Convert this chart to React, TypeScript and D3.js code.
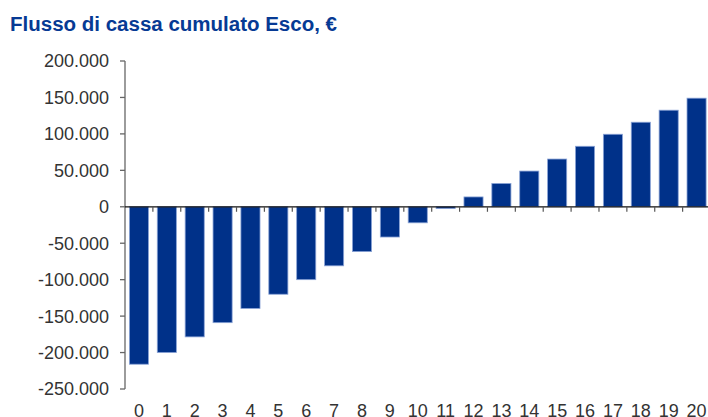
import React from "react";
import * as d3 from "d3";

const years = ["0","1","2","3","4","5","6","7","8","9","10","11","12","13","14","15","16","17","18","19","20"];
const cumulativeCash = [-216000,-200000,-178500,-159000,-139500,-120000,-100000,-81000,-61500,-41500,-22000,-2500,13500,32000,49000,65500,83000,99500,116000,132500,149000];
const yTicks = [200000,150000,100000,50000,0,-50000,-100000,-150000,-200000,-250000];
const title = "Flusso di cassa cumulato Esco, €";

const W = 708, H = 417;
const left = 125, right = 710.5, top = 61, bottom = 389;

const locale = d3.formatLocale({ decimal: ",", thousands: ".", grouping: [3], currency: ["", "€"], minus: "-" });
const fmt = locale.format(",.0f");

export default function App() {
  const x = d3.scaleBand<string>().domain(years).range([left, right]).paddingInner(0.315).paddingOuter(0.1575);
  const y = d3.scaleLinear().domain([-250000, 200000]).range([bottom, top]);
  const y0 = y(0);
  const step = x.step();
  const font = "Arial, 'Liberation Sans', sans-serif";
  return (
    <div style={{ position: "fixed", left: 0, top: 0 }}>
      <svg width={W} height={H} style={{ display: "block", background: "#fff" }}>
        <text x={10} y={31} fontFamily={font} fontWeight="bold" fontSize={20} fill="#063a94" textLength={327} lengthAdjust="spacingAndGlyphs">{title}</text>
        {/* bars */}
        {cumulativeCash.map((v, i) => {
          const xp = x(years[i])!;
          const yTop = Math.min(y(v), y0);
          const h = Math.abs(y(v) - y0);
          return <rect key={i} x={xp} y={yTop} width={x.bandwidth()} height={h} fill="#003189" stroke="#8aa3d6" strokeWidth={0.8} />;
        })}
        {/* y axis */}
        <line x1={left} x2={left} y1={top} y2={bottom} stroke="#666" strokeWidth={1.3} />
        {yTicks.map((t) => (
          <g key={t}>
            <line x1={left - 5} x2={left} y1={y(t)} y2={y(t)} stroke="#666" strokeWidth={1.3} />
            <text x={109} y={y(t)} dy="0.36em" textAnchor="end" fontFamily={font} fontSize={18} fill="#333">{fmt(t)}</text>
          </g>
        ))}
        {/* zero axis */}
        <line x1={left} x2={W} y1={y0} y2={y0} stroke="#111" strokeWidth={1.3} />
        {years.slice(1).map((c, i) => {
          const xt = left + (i + 1) * step;
          return <line key={c} x1={xt} x2={xt} y1={y0} y2={y0 + 5} stroke="#555" strokeWidth={1.2} />;
        })}
        {years.map((c) => (
          <text key={c} x={x(c)! + x.bandwidth() / 2} y={417} textAnchor="middle" fontFamily={font} fontSize={18} fill="#333">{c}</text>
        ))}
      </svg>
    </div>
  );
}
